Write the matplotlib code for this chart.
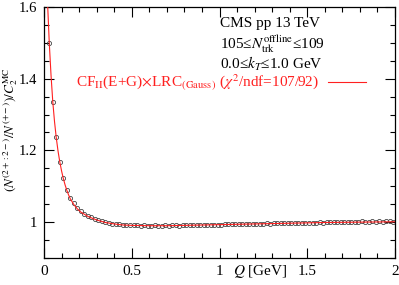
import matplotlib
matplotlib.use("Agg")
import matplotlib.pyplot as plt
import numpy as np

# data points (bin centres, ratio)
q_data = [0.03, 0.05, 0.07, 0.09, 0.11, 0.13, 0.15, 0.17, 0.19, 0.21,
          0.23, 0.25, 0.27, 0.29, 0.31, 0.33, 0.35, 0.37, 0.39, 0.41,
          0.43, 0.45, 0.47, 0.49, 0.51, 0.53, 0.55, 0.57, 0.59, 0.61,
          0.63, 0.65, 0.67, 0.69, 0.71, 0.73, 0.75, 0.77, 0.79, 0.81,
          0.83, 0.85, 0.87, 0.89, 0.91, 0.93, 0.95, 0.97, 0.99, 1.01,
          1.03, 1.05, 1.07, 1.09, 1.11, 1.13, 1.15, 1.17, 1.19, 1.21,
          1.23, 1.25, 1.27, 1.29, 1.31, 1.33, 1.35, 1.37, 1.39, 1.41,
          1.43, 1.45, 1.47, 1.49, 1.51, 1.53, 1.55, 1.57, 1.59, 1.61,
          1.63, 1.65, 1.67, 1.69, 1.71, 1.73, 1.75, 1.77, 1.79, 1.81,
          1.83, 1.85, 1.87, 1.89, 1.91, 1.93, 1.95, 1.97, 1.99]
ratio = [1.500, 1.336, 1.237, 1.168, 1.123, 1.090, 1.067, 1.052, 1.040, 1.031,
         1.024, 1.018, 1.013, 1.009, 1.006, 1.003, 1.000, 0.998, 0.996, 0.995,
         0.994, 0.993, 0.992, 0.992, 0.991, 0.991, 0.990, 0.991, 0.990, 0.990,
         0.991, 0.990, 0.990, 0.991, 0.990, 0.991, 0.991, 0.990, 0.991, 0.991,
         0.992, 0.991, 0.992, 0.992, 0.992, 0.993, 0.992, 0.993, 0.993, 0.993,
         0.994, 0.994, 0.994, 0.995, 0.994, 0.995, 0.995, 0.995, 0.996, 0.995,
         0.996, 0.996, 0.997, 0.996, 0.997, 0.997, 0.997, 0.998, 0.997, 0.998,
         0.998, 0.998, 0.999, 0.998, 0.999, 0.999, 0.999, 1.000, 0.999, 1.000,
         1.000, 1.000, 1.001, 1.000, 1.001, 1.001, 1.000, 1.001, 1.001, 1.002,
         1.001, 1.001, 1.002, 1.001, 1.002, 1.001, 1.002, 1.002, 1.001]

# fit curve
q_fit = [0.015, 0.02, 0.03, 0.04, 0.05, 0.06, 0.07, 0.08, 0.09, 0.10,
         0.11, 0.12, 0.13, 0.14, 0.15, 0.17, 0.19, 0.21, 0.25, 0.30,
         0.35, 0.40, 0.45, 0.50, 0.60, 0.70, 0.80, 0.90, 1.00, 1.20,
         1.40, 1.60, 1.80, 2.00]
fit = [1.70, 1.615, 1.500, 1.410, 1.336, 1.280, 1.235, 1.198, 1.168, 1.143,
       1.122, 1.104, 1.089, 1.076, 1.065, 1.049, 1.037, 1.028, 1.016, 1.006,
       0.999, 0.995, 0.992, 0.991, 0.990, 0.990, 0.991, 0.992, 0.993, 0.995,
       0.997, 0.999, 1.000, 1.001]

plt.rcParams['font.family'] = ['Liberation Serif', 'DejaVu Serif']
plt.rcParams['mathtext.fontset'] = 'stix'
plt.rcParams['font.size'] = 11

fig = plt.figure(figsize=(3.99, 2.85), dpi=100)
ax = fig.add_axes([44/399, 1-258/285, 351/399, 251/285])

ax.plot(q_data, ratio, 'o', mfc='none', mec='#444444', ms=3, mew=0.6, zorder=2)
ax.plot(q_fit, fit, color='#ff2020', lw=0.8, zorder=3,
        label=r"CF$_{\rm II}$(E+G)$\times$LRC$_{\rm (Gauss)}$ ($\chi^2$/ndf=107/92)")

ax.set_xlim(0, 2)
ax.set_ylim(0.9, 1.6)
ax.set_xticks([0, 0.5, 1, 1.5, 2])
ax.set_xticklabels(["0", "0.5", "1", "1.5", "2"])
ax.set_xticks(np.arange(0, 2.01, 0.1), minor=True)
ax.set_yticks([1.0, 1.2, 1.4, 1.6])
ax.set_yticklabels(["1", "1.2", "1.4", "1.6"])
ax.set_yticks(np.arange(0.9, 1.601, 0.05), minor=True)
ax.tick_params(which='both', direction='in', top=True, right=True, width=0.8)
ax.tick_params(which='major', length=7)
ax.tick_params(which='minor', length=3.6)
ax.tick_params(axis='x', pad=5)
ax.tick_params(axis='y', pad=5, labelsize=10.5)
for s in ax.spines.values():
    s.set_linewidth(0.9)

ax.set_xlabel(r"$Q$ [GeV]")
ax.xaxis.set_label_coords((260-44)/351, (258-263)/251)
ax.set_ylabel(r"$(N^{(2+:2-)}/N^{(+-)})/C_2^{\rm MC}$", fontsize=9.5)
ax.yaxis.set_label_coords((20-44)/351, (258-130)/251)

fig.text(220/399, 1-24/285, "CMS pp 13 TeV", va='center', ha='left')
fig.text(220/399, 1-44/285, r"105≤$N_{\rm trk}^{\rm offline}$≤109", va='center', ha='left')
fig.text(220/399, 1-64/285, r"0.0≤$k_T$≤1.0 GeV", va='center', ha='left')

leg = ax.legend(loc='center right', bbox_to_anchor=(366/399, 1-83/285),
                bbox_transform=fig.transFigure, frameon=False, markerfirst=False,
                handlelength=2.5, handletextpad=0.6, borderpad=0, borderaxespad=0)
for t in leg.get_texts():
    t.set_color('#ff2020')

fig.savefig("out.png", dpi=100)
